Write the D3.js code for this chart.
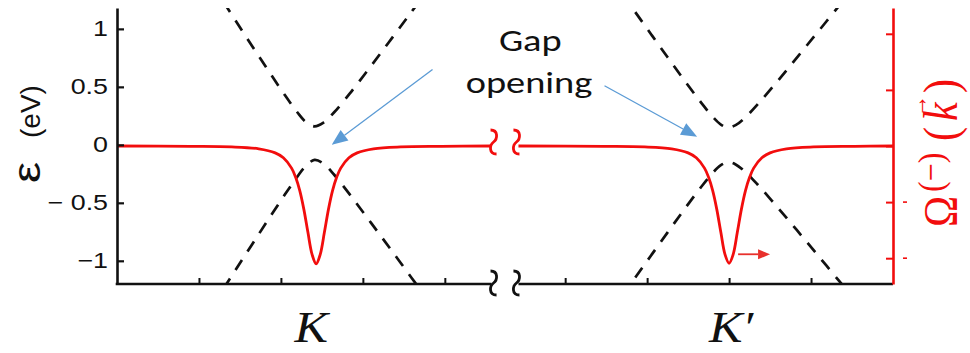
<!DOCTYPE html>
<html>
<head>
<meta charset="utf-8">
<script src="https://cdn.jsdelivr.net/npm/d3@7/dist/d3.min.js"></script>
<style>
  body { margin: 0; background: #fff; }
  svg { display: block; }
</style>
</head>
<body>
<svg id="chart" width="970" height="353"></svg>
<script>
// ---- energy axis (left) ----
const energyTicks = [-1, -0.5, 0, 0.5, 1];
const energyTickLabels = ["\u22121", "\u2212 0.5", "0", "0.5", "1"];

// ---- Berry curvature axis (right, unlabelled ticks) ----
const curvatureTicks = [-1, -0.5, 0, 0.5, 1];

// ---- momentum axis: two windows around the valleys ----
const kTicksLeft = [1, 2, 3, 4];
const kTicksRight = [6, 7, 8, 9];
const valleyLabels = ["K", "K\u2032"];
const valleyPositions = [2.42, 8.0];

// bands around K
const kSamplesK = [1.30, 1.45, 1.65, 1.85, 2.05, 2.20, 2.30, 2.41, 2.52, 2.65, 2.85, 3.10, 3.35, 3.60, 3.80];
const conductionK = [1.232, 1.068, 0.851, 0.636, 0.427, 0.281, 0.200, 0.160, 0.192, 0.281, 0.451, 0.681, 0.916, 1.153, 1.344];
const valenceK = [-1.239, -1.075, -0.857, -0.640, -0.427, -0.275, -0.185, -0.130, -0.162, -0.258, -0.437, -0.673, -0.911, -1.152, -1.345];

// bands around K'
const kSamplesKp = [6.70, 6.85, 7.05, 7.25, 7.45, 7.65, 7.80, 7.90, 7.99, 8.08, 8.20, 8.35, 8.60, 8.85, 9.10, 9.35, 9.50];
const conductionKp = [1.299, 1.150, 0.952, 0.755, 0.560, 0.372, 0.242, 0.175, 0.150, 0.170, 0.238, 0.351, 0.557, 0.772, 0.988, 1.206, 1.337];
const valenceKp = [-1.299, -1.150, -0.952, -0.755, -0.560, -0.372, -0.242, -0.175, -0.150, -0.169, -0.235, -0.344, -0.546, -0.755, -0.967, -1.180, -1.308];

// Berry curvature of the lower band, left window (K)
const curvKSamplesK = [0.00, 0.90, 1.40, 1.73, 1.93, 2.03, 2.13, 2.18, 2.23, 2.28, 2.33, 2.38, 2.43, 2.48, 2.53, 2.58, 2.63, 2.68, 2.73, 2.83, 2.93, 3.13, 3.46, 3.96, 4.57];
const curvatureK = [0.000, -0.003, -0.008, -0.025, -0.061, -0.105, -0.197, -0.279, -0.398, -0.565, -0.772, -0.966, -1.050, -0.966, -0.772, -0.565, -0.398, -0.279, -0.197, -0.105, -0.061, -0.025, -0.008, -0.003, 0.000];

// Berry curvature of the lower band, right window (K')
const curvKSamplesKp = [5.43, 6.47, 6.97, 7.30, 7.50, 7.60, 7.70, 7.75, 7.80, 7.85, 7.90, 7.95, 8.00, 8.05, 8.10, 8.15, 8.20, 8.25, 8.30, 8.40, 8.50, 8.70, 9.03, 9.53, 10.0];
const curvatureKp = [0.000, -0.003, -0.008, -0.025, -0.061, -0.105, -0.197, -0.279, -0.398, -0.565, -0.772, -0.966, -1.045, -0.966, -0.772, -0.565, -0.398, -0.279, -0.197, -0.105, -0.061, -0.025, -0.008, -0.003, 0.000];

// ---- layout ----
const plot = { left: 117, right: 893, top: 8, bottom: 284 };
const breakL = 4.57, breakR = 5.43;   // momentum values where the axis is cut
const WIDE = 1.22;                     // horizontal stretch of the lettering

const svg = d3.select("#chart");

// piecewise scale: two windows separated by the axis break
const x = d3.scaleLinear()
  .domain([0, 4.6, 5.4, 10])
  .range([plot.left, 494, 516, plot.right]);
const y = d3.scaleLinear().domain([-1.2, 1.18]).range([plot.bottom, plot.top]);
const yR = d3.scaleLinear().domain([-1.23, 1.23]).range([plot.bottom, plot.top]);

const RED = "#f20d0d";
const BLUE = "#5b9bd5";
const SANS = "'Liberation Sans', Arial, sans-serif";
const SERIF = "'Liberation Serif', 'Times New Roman', serif";

svg.append("defs").append("clipPath").attr("id", "plotClip")
  .append("rect")
  .attr("x", plot.left).attr("y", plot.top)
  .attr("width", plot.right - plot.left).attr("height", plot.bottom - plot.top);

// ---- dashed energy bands ----
const bandLine = d3.line()
  .x(d => x(d[0])).y(d => y(d[1]))
  .curve(d3.curveCatmullRom.alpha(0.5));

const bands = [
  d3.zip(kSamplesK, conductionK),
  d3.zip(kSamplesK, valenceK),
  d3.zip(kSamplesKp, conductionKp),
  d3.zip(kSamplesKp, valenceKp)
];
svg.append("g").attr("clip-path", "url(#plotClip)")
  .selectAll("path").data(bands).join("path")
  .attr("d", bandLine)
  .attr("fill", "none")
  .attr("stroke", "#111")
  .attr("stroke-width", 2.7)
  .attr("stroke-dasharray", "12,10");

// ---- Berry curvature (red) ----
const curvLine = d3.line()
  .x(d => x(d[0])).y(d => yR(d[1]))
  .curve(d3.curveCatmullRom.alpha(0.5));
svg.append("g").selectAll("path")
  .data([d3.zip(curvKSamplesK, curvatureK), d3.zip(curvKSamplesKp, curvatureKp)])
  .join("path")
  .attr("d", curvLine)
  .attr("fill", "none")
  .attr("stroke", RED)
  .attr("stroke-width", 2.8)
  .attr("stroke-linejoin", "round");

// ---- axes ----
// left energy axis, ticks pointing inward
const gLeft = svg.append("g")
  .attr("transform", `translate(${plot.left},0)`)
  .call(d3.axisLeft(y)
    .tickValues(energyTicks)
    .tickSizeInner(-7).tickSizeOuter(0).tickPadding(9)
    .tickFormat((d, i) => energyTickLabels[i]));
gLeft.select(".domain").attr("stroke", "#111").attr("stroke-width", 2.6);
gLeft.selectAll(".tick line").attr("stroke", "#111").attr("stroke-width", 2.2);
gLeft.selectAll(".tick text")
  .attr("x", 0)
  .attr("transform", `translate(-9,0) scale(${WIDE},1)`)
  .attr("font-family", SANS)
  .attr("font-size", 22).attr("fill", "#111");

// bottom momentum axis, drawn as two segments
const gBottom = svg.append("g").attr("transform", `translate(0,${plot.bottom})`);
gBottom.call(d3.axisBottom(x)
  .tickValues(kTicksLeft.concat(kTicksRight))
  .tickSizeInner(-6).tickSizeOuter(0).tickFormat(""));
gBottom.select(".domain").remove();
gBottom.selectAll(".tick line").attr("stroke", "#111").attr("stroke-width", 2);
gBottom.selectAll("line.seg")
  .data([[0, breakL], [breakR, 10]])
  .join("line").attr("class", "seg")
  .attr("x1", d => x(d[0]) - (d[0] === 0 ? 1.3 : 0)).attr("x2", d => x(d[1]))
  .attr("y1", 0).attr("y2", 0)
  .attr("stroke", "#111").attr("stroke-width", 2.6);

// right curvature axis (red)
const gRight = svg.append("g")
  .attr("transform", `translate(${plot.right},0)`)
  .call(d3.axisRight(yR)
    .tickValues(curvatureTicks)
    .tickSizeInner(-7).tickSizeOuter(0).tickFormat(""));
gRight.select(".domain").attr("stroke", RED).attr("stroke-width", 2.6);
gRight.selectAll(".tick line").attr("stroke", RED).attr("stroke-width", 2);
// short marks beside the negative ticks
gRight.selectAll("line.neg")
  .data(curvatureTicks.filter(d => d < 0))
  .join("line").attr("class", "neg")
  .attr("x1", 10).attr("x2", 14)
  .attr("y1", d => yR(d)).attr("y2", d => yR(d))
  .attr("stroke", RED).attr("stroke-width", 1.6);

// ---- break marks ----
function squiggle(cx, cy) {
  return `M${cx - 3},${cy - 12} C${cx + 5},${cy - 12} ${cx + 4},${cy - 3} ${cx},${cy}` +
         ` C${cx - 4},${cy + 3} ${cx - 5},${cy + 12} ${cx + 3},${cy + 12}`;
}
svg.selectAll("path.brk")
  .data([breakL, breakR]).join("path").attr("class", "brk")
  .attr("d", d => squiggle(x(d) + (d < 5 ? 2 : -2), yR(0) - 4))
  .attr("fill", "none").attr("stroke", RED).attr("stroke-width", 2.8);
svg.selectAll("path.brkAxis")
  .data([breakL, breakR]).join("path").attr("class", "brkAxis")
  .attr("d", d => squiggle(x(d) + (d < 5 ? 2 : -2), plot.bottom - 1))
  .attr("fill", "none").attr("stroke", "#111").attr("stroke-width", 2.8);

// ---- axis titles ----
const lt = svg.append("g").attr("transform", `translate(40,183) rotate(-90)`)
  .attr("font-family", SANS).attr("fill", "#111");
lt.append("text").attr("transform", "scale(1.25,1)").attr("x", 0).attr("y", 0)
  .attr("font-size", 38).text("\u03b5");
lt.append("text").attr("x", 45).attr("y", 0).attr("font-size", 28).text("(eV)");

const rt = svg.append("g").attr("transform", `translate(957,227) scale(1.15,1) rotate(-90)`)
  .attr("fill", RED).attr("font-family", SERIF);
rt.append("text").attr("x", 0).attr("y", 0).attr("font-size", 42).text("\u03a9");
rt.append("text").attr("x", 35).attr("y", -12).attr("font-size", 32).text("(\u2212)");
rt.append("text").attr("x", 86).attr("y", 0).attr("font-size", 42).text("(");
rt.append("text").attr("x", 106).attr("y", 0).attr("font-size", 42).attr("font-style", "italic").text("k");
rt.append("text").attr("x", 110).attr("y", -26).attr("font-size", 22).text("\u2192");
rt.append("text").attr("x", 134).attr("y", 0).attr("font-size", 42).text(")");

// ---- valley labels ----
svg.selectAll("text.valley")
  .data(valleyLabels).join("text").attr("class", "valley")
  .attr("transform", (d, i) => `translate(${x(valleyPositions[i]) - 4 + (i ? 6 : 0)},342) scale(1.14,1)`)
  .attr("text-anchor", "middle")
  .attr("font-family", SERIF)
  .attr("font-style", "italic")
  .attr("font-size", 44).attr("fill", "#111")
  .text(d => d);

// ---- annotations ----
function arrow(g, x1, y1, x2, y2, color, width, headLen, headW) {
  const a = Math.atan2(y2 - y1, x2 - x1);
  const bx = x2 - headLen * Math.cos(a), by = y2 - headLen * Math.sin(a);
  g.append("line").attr("x1", x1).attr("y1", y1).attr("x2", bx).attr("y2", by)
    .attr("stroke", color).attr("stroke-width", width);
  const px = -Math.sin(a) * headW / 2, py = Math.cos(a) * headW / 2;
  g.append("path")
    .attr("d", `M${x2},${y2} L${bx + px},${by + py} L${bx - px},${by - py} Z`)
    .attr("fill", color);
}
const ann = svg.append("g");
arrow(ann, x(3.85), y(0.65), x(2.62), y(0.0), BLUE, 1.3, 16, 13);
arrow(ann, x(6.48), y(0.51), x(7.61), y(0.07), BLUE, 1.3, 16, 13);
arrow(ann, x(8.11), yR(-0.965), x(8.50), yR(-0.965), "#e8302c", 1.8, 12, 10);

const label = svg.append("g").attr("transform", "translate(529,0) scale(1.28,1)")
  .append("text")
  .attr("text-anchor", "middle")
  .attr("font-family", "Carlito, Lato, 'Open Sans', sans-serif")
  .attr("font-size", 30).attr("fill", "#111");
label.append("tspan").attr("x", 1).attr("y", 51).text("Gap");
label.append("tspan").attr("x", 0).attr("y", 93).text("opening");
</script>
</body>
</html>
